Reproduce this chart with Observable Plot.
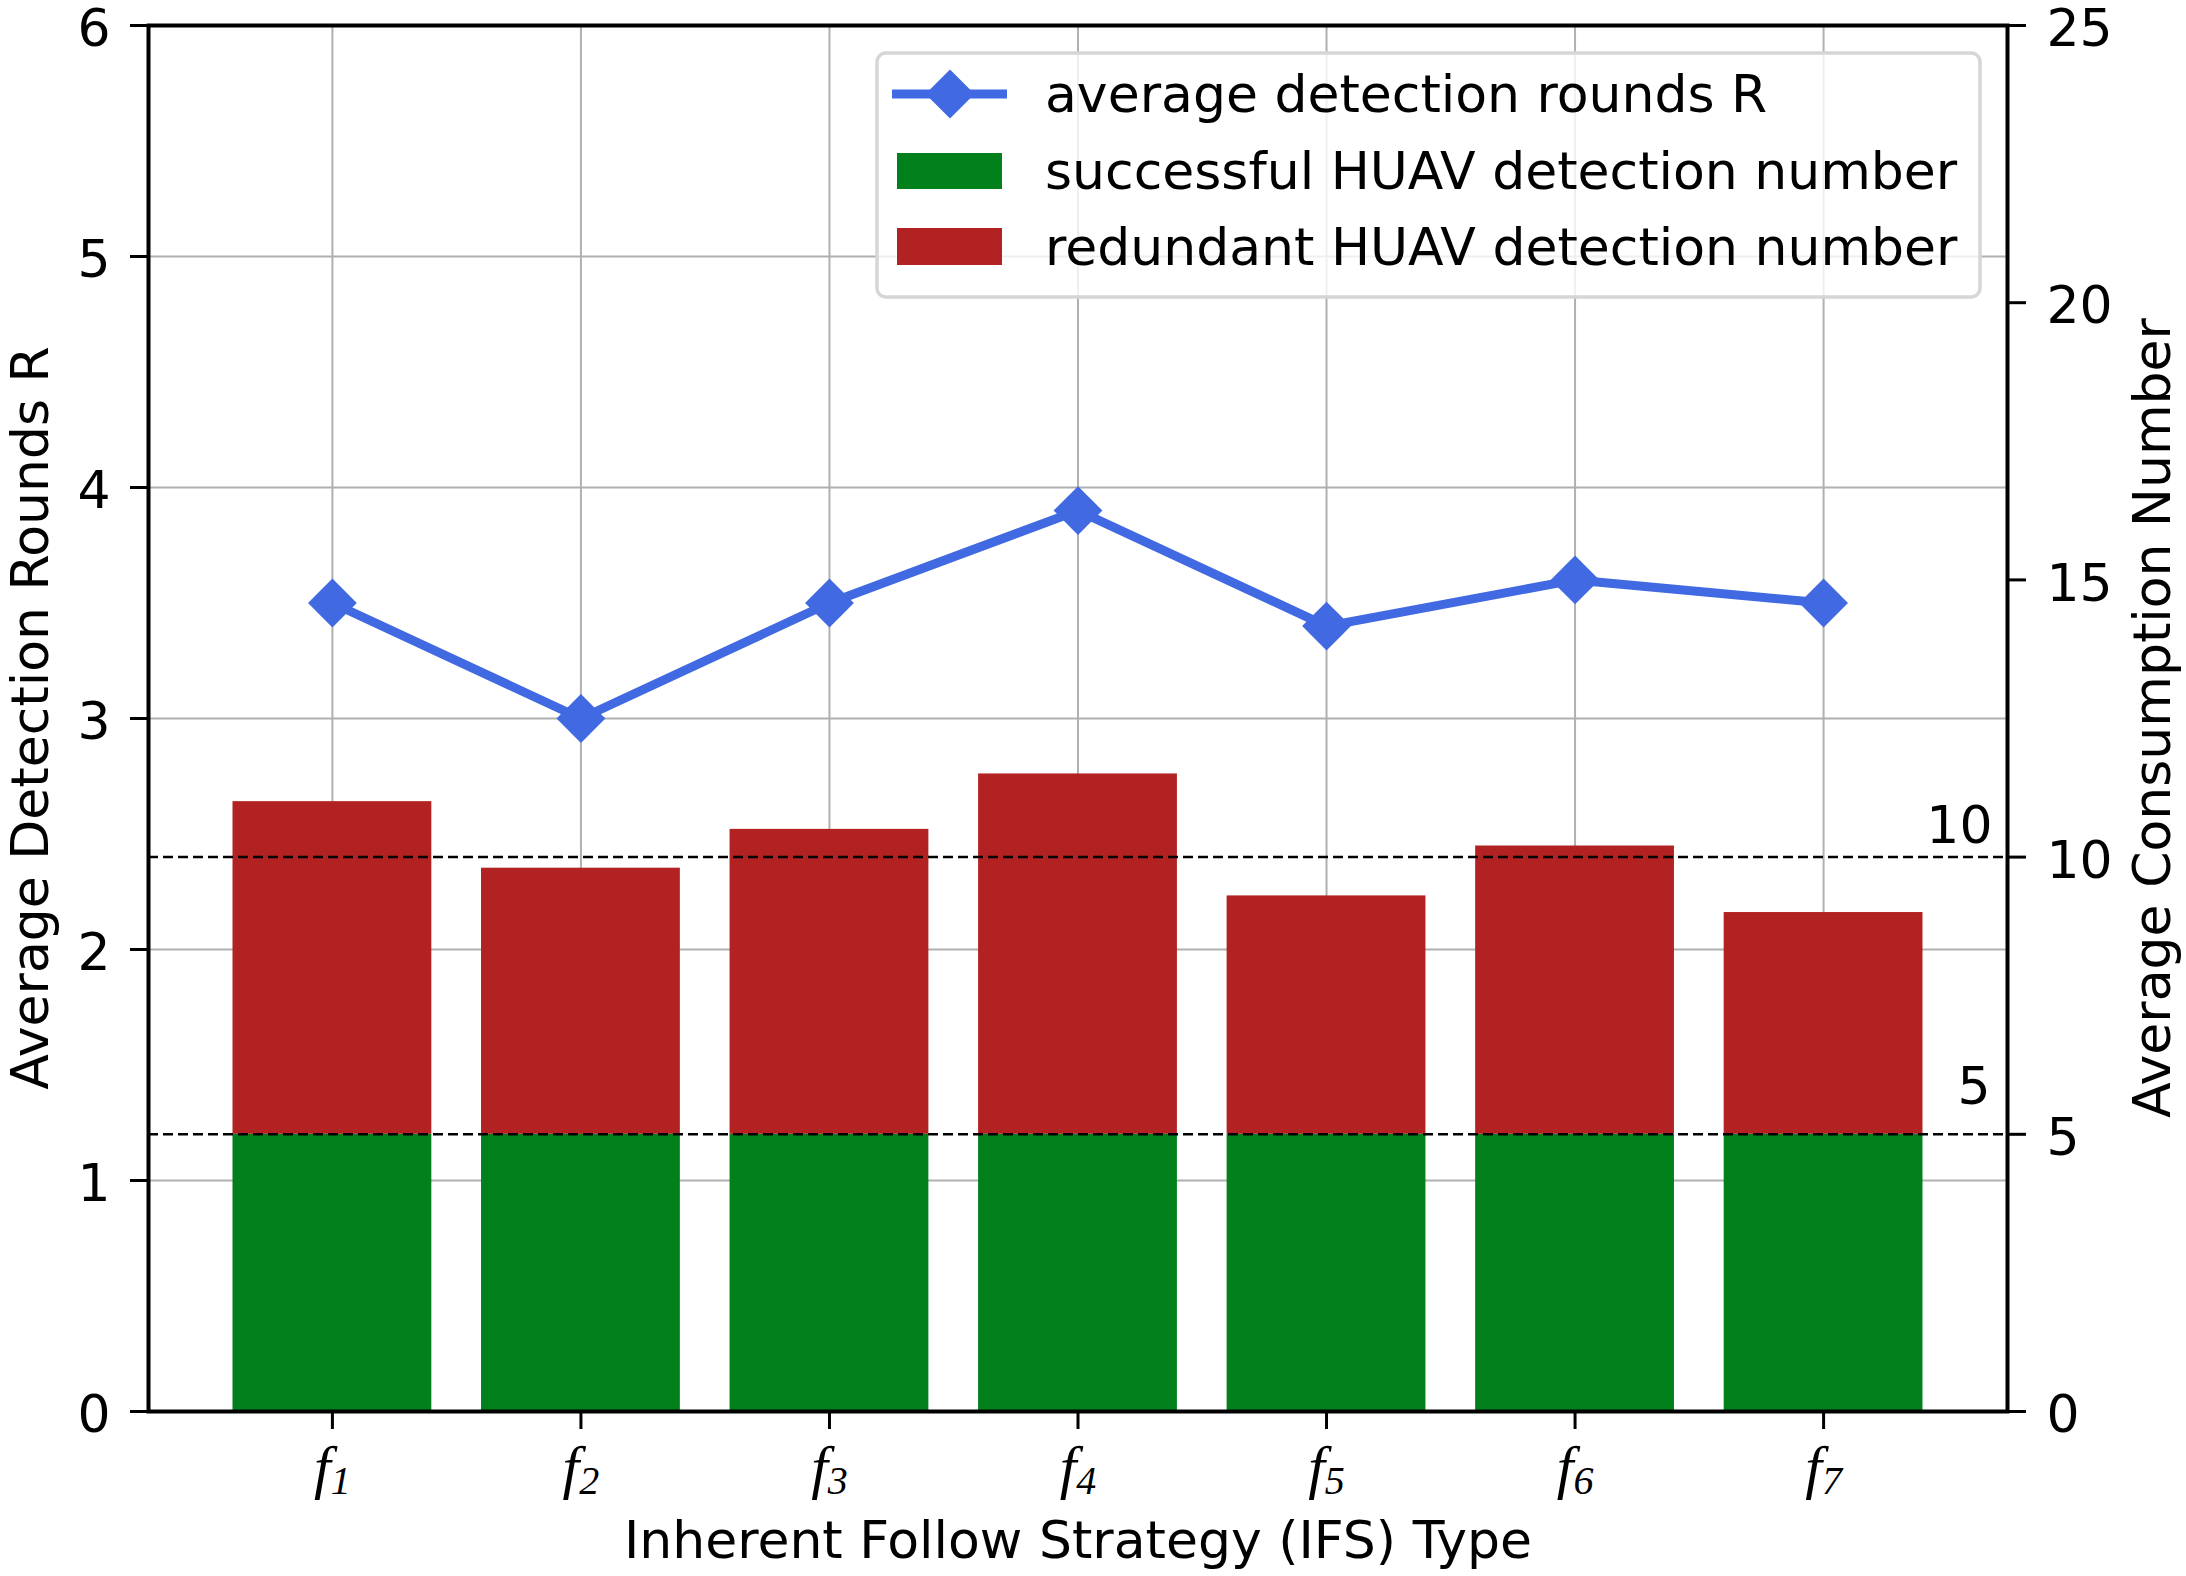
<!DOCTYPE html>
<html>
<head>
<meta charset="utf-8">
<script src="https://cdn.jsdelivr.net/npm/d3@7"></script>
<script src="https://cdn.jsdelivr.net/npm/@observablehq/plot@0.6"></script>
<style>
  html, body { margin: 0; padding: 0; background: white; }
  #chart svg { display: block; }
</style>
</head>
<body>
<div id="chart"></div>
<script>
// ---- data ----
const strategies = ["1", "2", "3", "4", "5", "6", "7"];           // f_i subscripts
const avgRounds = [3.5, 3.0, 3.5, 3.9, 3.4, 3.6, 3.5];              // left axis
const successful = [5, 5, 5, 5, 5, 5, 5];                           // right axis units
const redundant = [6.0, 4.8, 5.5, 6.5, 4.3, 5.2, 4.0];              // right axis units
const leftTicks = [0, 1, 2, 3, 4, 5, 6];
const rightTicks = [0, 5, 10, 15, 20, 25];
const refLines = [5, 10];
const seriesNames = [
  "average detection rounds R",
  "successful HUAV detection number",
  "redundant HUAV detection number"
];

const BLUE = "#4169e1", GREEN = "#02801b", RED = "#b22222", GRID = "#b0b0b0";
const k = 6 / 25; // right-axis units -> left-axis units

const table = strategies.map((s, i) => ({
  i, s, rounds: avgRounds[i], succ: successful[i], red: redundant[i]
}));
const xIdx = table.map(d => d.i);

const chart = Plot.plot({
  width: 2186,
  height: 1576,
  marginLeft: 148,
  marginRight: 179,
  marginTop: 25,
  marginBottom: 165,
  x: {type: "linear", domain: [-0.74, 6.74], axis: null},
  y: {domain: [0, 6], axis: null},
  style: {fontFamily: "DejaVu Sans", fontSize: "52px", background: "white", color: "black"},
  marks: [
    Plot.ruleY(leftTicks, {y: d => d, stroke: GRID, strokeWidth: 2}),
    Plot.ruleX(xIdx, {x: d => d, stroke: GRID, strokeWidth: 2}),
    Plot.rect(table, {x1: d => d.i - 0.4, x2: d => d.i + 0.4, y1: 0, y2: d => d.succ * k, fill: GREEN}),
    Plot.rect(table, {x1: d => d.i - 0.4, x2: d => d.i + 0.4, y1: d => d.succ * k, y2: d => (d.succ + d.red) * k, fill: RED}),
    Plot.ruleY(refLines, {y: d => d * k, stroke: "black", strokeWidth: 2.5, strokeDasharray: "10,5"}),
    Plot.text(refLines.filter(v => v === 10), {y: d => d * k, text: d => String(d), frameAnchor: "right", textAnchor: "end", dx: -15, dy: -31, fontSize: 52}),
    Plot.text(refLines.filter(v => v === 5), {y: d => d * k, text: d => String(d), frameAnchor: "right", textAnchor: "end", dx: -17, dy: -47, fontSize: 52}),
    Plot.line(table, {x: "i", y: "rounds", stroke: BLUE, strokeWidth: 9}),
    Plot.dot(table, {x: "i", y: "rounds", symbol: "diamond2", r: 22, fill: BLUE, stroke: "none"}),
    Plot.frame({stroke: "black", strokeWidth: 4}),
    Plot.axisY(leftTicks, {anchor: "left", tickSize: 18, tickPadding: 20, strokeWidth: 3, fontSize: 52, label: null,
      tickFormat: d => String(d)}),
    Plot.axisY(rightTicks.map(v => v * k), {anchor: "right", tickSize: 18, tickPadding: 21, strokeWidth: 3, fontSize: 52, label: null,
      tickFormat: d => String(Math.round(d / k))}),
    Plot.axisX(xIdx, {anchor: "bottom", tickSize: 18, tickPadding: 15, strokeWidth: 3, fontSize: 60,
      fontFamily: "Liberation Serif", fontStyle: "italic", label: null,
      tickFormat: i => "f" + strategies[i]})
  ]
});

document.getElementById("chart").appendChild(chart);

const svg = d3.select(chart);

// nudge y tick labels down a little (matplotlib centring)
svg.selectAll("g[aria-label='y-axis tick label']").each(function () {
  const g = d3.select(this);
  const tr = g.attr("transform") || "";
  g.attr("transform", (tr + " translate(0,4)").trim());
});

// subscripts on x tick labels
svg.selectAll("text").each(function () {
  const t = d3.select(this);
  const s = t.text();
  if (!/^f\d$/.test(s)) return;
  t.text("");
  t.append("tspan").text("f");
  t.append("tspan").attr("font-size", 40).attr("dy", "0.18em").text(s.slice(1));
});

// axis titles
function title(x, y, rot, str) {
  svg.append("text")
    .attr("transform", `translate(${x},${y})` + (rot ? ` rotate(${rot})` : ""))
    .attr("text-anchor", "middle")
    .attr("font-family", "DejaVu Sans").attr("font-size", 52).attr("fill", "black")
    .text(str);
}
title(48, 718, -90, "Average Detection Rounds R");
title(2170, 718, -90, "Average Consumption Number");
title(1078, 1558, 0, "Inherent Follow Strategy (IFS) Type");

// legend
const lg = svg.append("g");
lg.append("rect").attr("x", 877).attr("y", 53).attr("width", 1103).attr("height", 244)
  .attr("rx", 9).attr("fill", "white").attr("fill-opacity", 0.8)
  .attr("stroke", "#d6d6d6").attr("stroke-width", 3.5);
lg.append("line").attr("x1", 892).attr("x2", 1007).attr("y1", 94).attr("y2", 94)
  .attr("stroke", BLUE).attr("stroke-width", 9);
lg.append("path").attr("d", "M950,69.5L974.5,94L950,118.5L925.5,94Z").attr("fill", BLUE);
lg.append("rect").attr("x", 897).attr("y", 153).attr("width", 105).attr("height", 36).attr("fill", GREEN);
lg.append("rect").attr("x", 897).attr("y", 228).attr("width", 105).attr("height", 37).attr("fill", RED);
const baselines = [112, 189, 265];
seriesNames.forEach((name, j) => {
  lg.append("text").attr("x", 1045).attr("y", baselines[j])
    .attr("text-anchor", "start")
    .attr("font-family", "DejaVu Sans").attr("font-size", 52).attr("fill", "black")
    .text(name);
});
</script>
</body>
</html>
